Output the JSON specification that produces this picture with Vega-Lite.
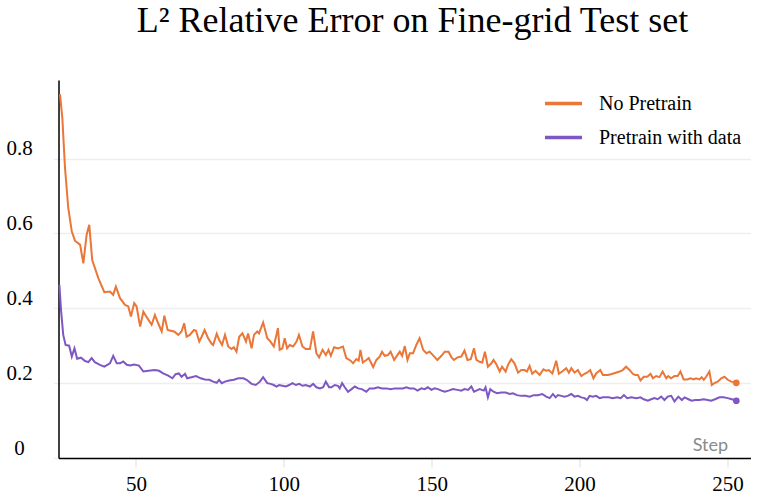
{
"$schema":"https://vega.github.io/schema/vega-lite/v6.json",
"width":692,"height":378,
"autosize":{"type":"none"},
"padding":{"left":58.5,"top":80,"right":10.5,"bottom":36},
"background":"white",
"title":{"text":"L² Relative Error on Fine-grid Test set","font":"Liberation Serif","fontSize":36,"fontWeight":"normal","color":"#000","anchor":"middle","dx":8,"baseline":"alphabetic","offset":12},
"config":{"view":{"stroke":null}},
"data":{"values":[
{"run":"No Pretrain","step":24.3,"err":0.972},{"run":"No Pretrain","step":25.1,"err":0.908},{"run":"No Pretrain","step":26,"err":0.775},{"run":"No Pretrain","step":27.1,"err":0.668},{"run":"No Pretrain","step":28.3,"err":0.605},{"run":"No Pretrain","step":29.4,"err":0.58},{"run":"No Pretrain","step":31.1,"err":0.57},{"run":"No Pretrain","step":32.2,"err":0.52},{"run":"No Pretrain","step":33.3,"err":0.596},{"run":"No Pretrain","step":34.2,"err":0.623},{"run":"No Pretrain","step":35.2,"err":0.529},{"run":"No Pretrain","step":37.3,"err":0.48},{"run":"No Pretrain","step":39.3,"err":0.443},{"run":"No Pretrain","step":41.2,"err":0.445},{"run":"No Pretrain","step":42.3,"err":0.436},{"run":"No Pretrain","step":43.2,"err":0.458},{"run":"No Pretrain","step":44.6,"err":0.427},{"run":"No Pretrain","step":46.3,"err":0.409},{"run":"No Pretrain","step":47.4,"err":0.405},{"run":"No Pretrain","step":48.3,"err":0.378},{"run":"No Pretrain","step":49.4,"err":0.414},{"run":"No Pretrain","step":50.2,"err":0.405},{"run":"No Pretrain","step":51.4,"err":0.351},{"run":"No Pretrain","step":52.5,"err":0.391},{"run":"No Pretrain","step":53.9,"err":0.373},{"run":"No Pretrain","step":55.3,"err":0.356},{"run":"No Pretrain","step":56.4,"err":0.382},{"run":"No Pretrain","step":57.5,"err":0.36},{"run":"No Pretrain","step":58.7,"err":0.338},{"run":"No Pretrain","step":59.6,"err":0.38},{"run":"No Pretrain","step":60.7,"err":0.342},{"run":"No Pretrain","step":61.8,"err":0.34},{"run":"No Pretrain","step":62.9,"err":0.338},{"run":"No Pretrain","step":64.3,"err":0.329},{"run":"No Pretrain","step":65.4,"err":0.338},{"run":"No Pretrain","step":66.3,"err":0.36},{"run":"No Pretrain","step":67.1,"err":0.324},{"run":"No Pretrain","step":68.2,"err":0.329},{"run":"No Pretrain","step":69.6,"err":0.342},{"run":"No Pretrain","step":70.3,"err":0.34},{"run":"No Pretrain","step":71.4,"err":0.311},{"run":"No Pretrain","step":72.2,"err":0.324},{"run":"No Pretrain","step":73.2,"err":0.342},{"run":"No Pretrain","step":74.4,"err":0.32},{"run":"No Pretrain","step":75.6,"err":0.305},{"run":"No Pretrain","step":76.1,"err":0.302},{"run":"No Pretrain","step":77.3,"err":0.332},{"run":"No Pretrain","step":78.1,"err":0.316},{"run":"No Pretrain","step":79.1,"err":0.302},{"run":"No Pretrain","step":80.1,"err":0.329},{"run":"No Pretrain","step":81.2,"err":0.298},{"run":"No Pretrain","step":82.3,"err":0.291},{"run":"No Pretrain","step":83.1,"err":0.296},{"run":"No Pretrain","step":84,"err":0.284},{"run":"No Pretrain","step":84.9,"err":0.324},{"run":"No Pretrain","step":86,"err":0.333},{"run":"No Pretrain","step":87.2,"err":0.311},{"run":"No Pretrain","step":87.9,"err":0.333},{"run":"No Pretrain","step":89.1,"err":0.293},{"run":"No Pretrain","step":89.9,"err":0.329},{"run":"No Pretrain","step":91,"err":0.338},{"run":"No Pretrain","step":91.6,"err":0.333},{"run":"No Pretrain","step":93,"err":0.362},{"run":"No Pretrain","step":94.4,"err":0.32},{"run":"No Pretrain","step":95.5,"err":0.311},{"run":"No Pretrain","step":96.6,"err":0.298},{"run":"No Pretrain","step":98,"err":0.347},{"run":"No Pretrain","step":98.6,"err":0.289},{"run":"No Pretrain","step":99.5,"err":0.293},{"run":"No Pretrain","step":100.3,"err":0.32},{"run":"No Pretrain","step":101.1,"err":0.293},{"run":"No Pretrain","step":102,"err":0.302},{"run":"No Pretrain","step":103.1,"err":0.298},{"run":"No Pretrain","step":104.3,"err":0.311},{"run":"No Pretrain","step":105.1,"err":0.329},{"run":"No Pretrain","step":106.3,"err":0.298},{"run":"No Pretrain","step":107.4,"err":0.291},{"run":"No Pretrain","step":108.8,"err":0.291},{"run":"No Pretrain","step":109.9,"err":0.338},{"run":"No Pretrain","step":111,"err":0.28},{"run":"No Pretrain","step":111.9,"err":0.269},{"run":"No Pretrain","step":113.1,"err":0.289},{"run":"No Pretrain","step":114.2,"err":0.275},{"run":"No Pretrain","step":115.1,"err":0.289},{"run":"No Pretrain","step":115.9,"err":0.273},{"run":"No Pretrain","step":117,"err":0.296},{"run":"No Pretrain","step":118.3,"err":0.293},{"run":"No Pretrain","step":120,"err":0.298},{"run":"No Pretrain","step":121.1,"err":0.267},{"run":"No Pretrain","step":122.6,"err":0.26},{"run":"No Pretrain","step":123.4,"err":0.253},{"run":"No Pretrain","step":124.5,"err":0.264},{"run":"No Pretrain","step":125.3,"err":0.26},{"run":"No Pretrain","step":125.9,"err":0.289},{"run":"No Pretrain","step":126.7,"err":0.255},{"run":"No Pretrain","step":127.9,"err":0.262},{"run":"No Pretrain","step":128.7,"err":0.267},{"run":"No Pretrain","step":130.2,"err":0.243},{"run":"No Pretrain","step":131.3,"err":0.262},{"run":"No Pretrain","step":132.4,"err":0.271},{"run":"No Pretrain","step":133.2,"err":0.284},{"run":"No Pretrain","step":134.1,"err":0.273},{"run":"No Pretrain","step":135.2,"err":0.275},{"run":"No Pretrain","step":136.1,"err":0.284},{"run":"No Pretrain","step":137.3,"err":0.262},{"run":"No Pretrain","step":138.4,"err":0.275},{"run":"No Pretrain","step":139.2,"err":0.284},{"run":"No Pretrain","step":140,"err":0.273},{"run":"No Pretrain","step":140.9,"err":0.299},{"run":"No Pretrain","step":141.8,"err":0.262},{"run":"No Pretrain","step":142.6,"err":0.28},{"run":"No Pretrain","step":143.7,"err":0.28},{"run":"No Pretrain","step":144.8,"err":0.302},{"run":"No Pretrain","step":145.9,"err":0.32},{"run":"No Pretrain","step":147.1,"err":0.289},{"run":"No Pretrain","step":148.2,"err":0.28},{"run":"No Pretrain","step":149.3,"err":0.284},{"run":"No Pretrain","step":150.4,"err":0.275},{"run":"No Pretrain","step":151.9,"err":0.262},{"run":"No Pretrain","step":153.3,"err":0.273},{"run":"No Pretrain","step":154.4,"err":0.284},{"run":"No Pretrain","step":155.7,"err":0.284},{"run":"No Pretrain","step":156.7,"err":0.269},{"run":"No Pretrain","step":157.5,"err":0.262},{"run":"No Pretrain","step":158.7,"err":0.269},{"run":"No Pretrain","step":160,"err":0.271},{"run":"No Pretrain","step":161.1,"err":0.287},{"run":"No Pretrain","step":162.1,"err":0.262},{"run":"No Pretrain","step":163.2,"err":0.264},{"run":"No Pretrain","step":164.3,"err":0.293},{"run":"No Pretrain","step":165.1,"err":0.262},{"run":"No Pretrain","step":166.2,"err":0.257},{"run":"No Pretrain","step":167.1,"err":0.255},{"run":"No Pretrain","step":168,"err":0.284},{"run":"No Pretrain","step":169,"err":0.244},{"run":"No Pretrain","step":170.2,"err":0.253},{"run":"No Pretrain","step":170.9,"err":0.262},{"run":"No Pretrain","step":171.8,"err":0.251},{"run":"No Pretrain","step":173,"err":0.231},{"run":"No Pretrain","step":173.8,"err":0.244},{"run":"No Pretrain","step":175,"err":0.231},{"run":"No Pretrain","step":175.8,"err":0.249},{"run":"No Pretrain","step":176.9,"err":0.264},{"run":"No Pretrain","step":178,"err":0.253},{"run":"No Pretrain","step":179.2,"err":0.228},{"run":"No Pretrain","step":180.3,"err":0.235},{"run":"No Pretrain","step":181.4,"err":0.235},{"run":"No Pretrain","step":182.2,"err":0.231},{"run":"No Pretrain","step":183.1,"err":0.246},{"run":"No Pretrain","step":184,"err":0.225},{"run":"No Pretrain","step":185.1,"err":0.233},{"run":"No Pretrain","step":186.5,"err":0.222},{"run":"No Pretrain","step":187.8,"err":0.237},{"run":"No Pretrain","step":188.7,"err":0.233},{"run":"No Pretrain","step":189.6,"err":0.235},{"run":"No Pretrain","step":190.8,"err":0.226},{"run":"No Pretrain","step":192.1,"err":0.26},{"run":"No Pretrain","step":193,"err":0.225},{"run":"No Pretrain","step":194.1,"err":0.231},{"run":"No Pretrain","step":195.5,"err":0.24},{"run":"No Pretrain","step":196.4,"err":0.228},{"run":"No Pretrain","step":197.2,"err":0.24},{"run":"No Pretrain","step":198.3,"err":0.228},{"run":"No Pretrain","step":199.4,"err":0.235},{"run":"No Pretrain","step":200.6,"err":0.219},{"run":"No Pretrain","step":201.7,"err":0.225},{"run":"No Pretrain","step":202.5,"err":0.228},{"run":"No Pretrain","step":203.6,"err":0.235},{"run":"No Pretrain","step":204.7,"err":0.213},{"run":"No Pretrain","step":205.6,"err":0.226},{"run":"No Pretrain","step":207,"err":0.235},{"run":"No Pretrain","step":207.9,"err":0.222},{"run":"No Pretrain","step":209.6,"err":0.222},{"run":"No Pretrain","step":211.2,"err":0.225},{"run":"No Pretrain","step":213.5,"err":0.231},{"run":"No Pretrain","step":214.6,"err":0.235},{"run":"No Pretrain","step":215.7,"err":0.244},{"run":"No Pretrain","step":216.9,"err":0.235},{"run":"No Pretrain","step":218,"err":0.225},{"run":"No Pretrain","step":218.8,"err":0.222},{"run":"No Pretrain","step":219.7,"err":0.222},{"run":"No Pretrain","step":220.6,"err":0.207},{"run":"No Pretrain","step":221.7,"err":0.217},{"run":"No Pretrain","step":222.9,"err":0.217},{"run":"No Pretrain","step":224,"err":0.225},{"run":"No Pretrain","step":224.8,"err":0.213},{"run":"No Pretrain","step":225.9,"err":0.219},{"run":"No Pretrain","step":227,"err":0.216},{"run":"No Pretrain","step":228.1,"err":0.231},{"run":"No Pretrain","step":229.3,"err":0.213},{"run":"No Pretrain","step":230,"err":0.219},{"run":"No Pretrain","step":230.9,"err":0.213},{"run":"No Pretrain","step":232.1,"err":0.219},{"run":"No Pretrain","step":233.2,"err":0.219},{"run":"No Pretrain","step":234.1,"err":0.231},{"run":"No Pretrain","step":235.2,"err":0.21},{"run":"No Pretrain","step":236.4,"err":0.21},{"run":"No Pretrain","step":237.5,"err":0.213},{"run":"No Pretrain","step":238.6,"err":0.21},{"run":"No Pretrain","step":239.4,"err":0.213},{"run":"No Pretrain","step":240.5,"err":0.21},{"run":"No Pretrain","step":241.3,"err":0.216},{"run":"No Pretrain","step":242,"err":0.209},{"run":"No Pretrain","step":242.8,"err":0.217},{"run":"No Pretrain","step":243.9,"err":0.231},{"run":"No Pretrain","step":244.7,"err":0.195},{"run":"No Pretrain","step":245.6,"err":0.2},{"run":"No Pretrain","step":246.7,"err":0.204},{"run":"No Pretrain","step":247.9,"err":0.213},{"run":"No Pretrain","step":249,"err":0.217},{"run":"No Pretrain","step":250.1,"err":0.209},{"run":"No Pretrain","step":251.3,"err":0.204},{"run":"No Pretrain","step":253,"err":0.201},
{"run":"Pretrain with data","step":24.1,"err":0.463},{"run":"Pretrain with data","step":24.7,"err":0.391},{"run":"Pretrain with data","step":25.4,"err":0.329},{"run":"Pretrain with data","step":26.2,"err":0.302},{"run":"Pretrain with data","step":27.4,"err":0.3},{"run":"Pretrain with data","step":28.3,"err":0.271},{"run":"Pretrain with data","step":29.2,"err":0.293},{"run":"Pretrain with data","step":30.1,"err":0.265},{"run":"Pretrain with data","step":31.4,"err":0.268},{"run":"Pretrain with data","step":32.8,"err":0.259},{"run":"Pretrain with data","step":33.9,"err":0.256},{"run":"Pretrain with data","step":35,"err":0.267},{"run":"Pretrain with data","step":36.1,"err":0.256},{"run":"Pretrain with data","step":37.8,"err":0.249},{"run":"Pretrain with data","step":39.3,"err":0.244},{"run":"Pretrain with data","step":40.6,"err":0.25},{"run":"Pretrain with data","step":41.2,"err":0.253},{"run":"Pretrain with data","step":42.3,"err":0.273},{"run":"Pretrain with data","step":43.5,"err":0.253},{"run":"Pretrain with data","step":44.6,"err":0.253},{"run":"Pretrain with data","step":45.7,"err":0.258},{"run":"Pretrain with data","step":46.9,"err":0.249},{"run":"Pretrain with data","step":48,"err":0.247},{"run":"Pretrain with data","step":49.4,"err":0.25},{"run":"Pretrain with data","step":51,"err":0.247},{"run":"Pretrain with data","step":52.5,"err":0.231},{"run":"Pretrain with data","step":54.2,"err":0.233},{"run":"Pretrain with data","step":56.4,"err":0.235},{"run":"Pretrain with data","step":57.8,"err":0.233},{"run":"Pretrain with data","step":59.2,"err":0.226},{"run":"Pretrain with data","step":60.9,"err":0.22},{"run":"Pretrain with data","step":62.3,"err":0.213},{"run":"Pretrain with data","step":63.4,"err":0.224},{"run":"Pretrain with data","step":64.5,"err":0.226},{"run":"Pretrain with data","step":65.4,"err":0.217},{"run":"Pretrain with data","step":66.6,"err":0.225},{"run":"Pretrain with data","step":67.3,"err":0.213},{"run":"Pretrain with data","step":68.8,"err":0.216},{"run":"Pretrain with data","step":70.3,"err":0.219},{"run":"Pretrain with data","step":71.9,"err":0.213},{"run":"Pretrain with data","step":73.3,"err":0.21},{"run":"Pretrain with data","step":74.8,"err":0.209},{"run":"Pretrain with data","step":76.1,"err":0.204},{"run":"Pretrain with data","step":77.3,"err":0.201},{"run":"Pretrain with data","step":78.1,"err":0.209},{"run":"Pretrain with data","step":79,"err":0.2},{"run":"Pretrain with data","step":80.1,"err":0.204},{"run":"Pretrain with data","step":81.5,"err":0.207},{"run":"Pretrain with data","step":83.1,"err":0.209},{"run":"Pretrain with data","step":84.6,"err":0.213},{"run":"Pretrain with data","step":86.3,"err":0.213},{"run":"Pretrain with data","step":87.4,"err":0.209},{"run":"Pretrain with data","step":89.1,"err":0.198},{"run":"Pretrain with data","step":90.5,"err":0.195},{"run":"Pretrain with data","step":91.9,"err":0.204},{"run":"Pretrain with data","step":93,"err":0.216},{"run":"Pretrain with data","step":94.4,"err":0.2},{"run":"Pretrain with data","step":95.5,"err":0.198},{"run":"Pretrain with data","step":96.6,"err":0.195},{"run":"Pretrain with data","step":97.5,"err":0.191},{"run":"Pretrain with data","step":98.4,"err":0.195},{"run":"Pretrain with data","step":99.5,"err":0.193},{"run":"Pretrain with data","step":100.7,"err":0.191},{"run":"Pretrain with data","step":101.8,"err":0.195},{"run":"Pretrain with data","step":102.9,"err":0.2},{"run":"Pretrain with data","step":104.1,"err":0.195},{"run":"Pretrain with data","step":105.2,"err":0.198},{"run":"Pretrain with data","step":106.3,"err":0.193},{"run":"Pretrain with data","step":107.4,"err":0.195},{"run":"Pretrain with data","step":108.8,"err":0.191},{"run":"Pretrain with data","step":109.9,"err":0.198},{"run":"Pretrain with data","step":111,"err":0.189},{"run":"Pretrain with data","step":112.2,"err":0.186},{"run":"Pretrain with data","step":113.3,"err":0.189},{"run":"Pretrain with data","step":114.2,"err":0.204},{"run":"Pretrain with data","step":115.3,"err":0.189},{"run":"Pretrain with data","step":116.1,"err":0.189},{"run":"Pretrain with data","step":117.2,"err":0.195},{"run":"Pretrain with data","step":118.3,"err":0.193},{"run":"Pretrain with data","step":118.9,"err":0.186},{"run":"Pretrain with data","step":119.7,"err":0.2},{"run":"Pretrain with data","step":120.6,"err":0.189},{"run":"Pretrain with data","step":121.7,"err":0.177},{"run":"Pretrain with data","step":122.9,"err":0.184},{"run":"Pretrain with data","step":124,"err":0.191},{"run":"Pretrain with data","step":125.1,"err":0.186},{"run":"Pretrain with data","step":126.4,"err":0.184},{"run":"Pretrain with data","step":127.9,"err":0.177},{"run":"Pretrain with data","step":129,"err":0.186},{"run":"Pretrain with data","step":130.5,"err":0.186},{"run":"Pretrain with data","step":131.8,"err":0.189},{"run":"Pretrain with data","step":133.2,"err":0.186},{"run":"Pretrain with data","step":134.7,"err":0.186},{"run":"Pretrain with data","step":136.1,"err":0.184},{"run":"Pretrain with data","step":137.5,"err":0.186},{"run":"Pretrain with data","step":138.8,"err":0.186},{"run":"Pretrain with data","step":140.3,"err":0.186},{"run":"Pretrain with data","step":141.4,"err":0.189},{"run":"Pretrain with data","step":142.6,"err":0.186},{"run":"Pretrain with data","step":144,"err":0.186},{"run":"Pretrain with data","step":145.2,"err":0.18},{"run":"Pretrain with data","step":146.5,"err":0.186},{"run":"Pretrain with data","step":147.6,"err":0.184},{"run":"Pretrain with data","step":148.7,"err":0.189},{"run":"Pretrain with data","step":149.9,"err":0.182},{"run":"Pretrain with data","step":151,"err":0.186},{"run":"Pretrain with data","step":152.1,"err":0.184},{"run":"Pretrain with data","step":153.3,"err":0.18},{"run":"Pretrain with data","step":154.4,"err":0.177},{"run":"Pretrain with data","step":155.7,"err":0.18},{"run":"Pretrain with data","step":157.2,"err":0.184},{"run":"Pretrain with data","step":158.7,"err":0.182},{"run":"Pretrain with data","step":160,"err":0.18},{"run":"Pretrain with data","step":161.1,"err":0.184},{"run":"Pretrain with data","step":162.3,"err":0.182},{"run":"Pretrain with data","step":163.4,"err":0.191},{"run":"Pretrain with data","step":164.3,"err":0.177},{"run":"Pretrain with data","step":165.1,"err":0.18},{"run":"Pretrain with data","step":166.2,"err":0.184},{"run":"Pretrain with data","step":167.6,"err":0.18},{"run":"Pretrain with data","step":168.2,"err":0.189},{"run":"Pretrain with data","step":169,"err":0.162},{"run":"Pretrain with data","step":169.8,"err":0.184},{"run":"Pretrain with data","step":170.9,"err":0.177},{"run":"Pretrain with data","step":172.1,"err":0.173},{"run":"Pretrain with data","step":173.5,"err":0.175},{"run":"Pretrain with data","step":175,"err":0.175},{"run":"Pretrain with data","step":176.4,"err":0.171},{"run":"Pretrain with data","step":177.5,"err":0.173},{"run":"Pretrain with data","step":178.8,"err":0.168},{"run":"Pretrain with data","step":180.3,"err":0.166},{"run":"Pretrain with data","step":181.8,"err":0.166},{"run":"Pretrain with data","step":183.1,"err":0.164},{"run":"Pretrain with data","step":184.5,"err":0.168},{"run":"Pretrain with data","step":185.9,"err":0.168},{"run":"Pretrain with data","step":187.4,"err":0.171},{"run":"Pretrain with data","step":188.7,"err":0.164},{"run":"Pretrain with data","step":189.9,"err":0.16},{"run":"Pretrain with data","step":191,"err":0.171},{"run":"Pretrain with data","step":191.9,"err":0.162},{"run":"Pretrain with data","step":192.7,"err":0.168},{"run":"Pretrain with data","step":193.8,"err":0.166},{"run":"Pretrain with data","step":194.9,"err":0.164},{"run":"Pretrain with data","step":196,"err":0.166},{"run":"Pretrain with data","step":197.2,"err":0.171},{"run":"Pretrain with data","step":198.3,"err":0.164},{"run":"Pretrain with data","step":199.4,"err":0.166},{"run":"Pretrain with data","step":200.6,"err":0.162},{"run":"Pretrain with data","step":201.7,"err":0.16},{"run":"Pretrain with data","step":202.5,"err":0.155},{"run":"Pretrain with data","step":203.4,"err":0.166},{"run":"Pretrain with data","step":204.5,"err":0.164},{"run":"Pretrain with data","step":205.6,"err":0.166},{"run":"Pretrain with data","step":206.8,"err":0.16},{"run":"Pretrain with data","step":207.9,"err":0.162},{"run":"Pretrain with data","step":209.8,"err":0.162},{"run":"Pretrain with data","step":211.2,"err":0.16},{"run":"Pretrain with data","step":212.7,"err":0.162},{"run":"Pretrain with data","step":213.9,"err":0.16},{"run":"Pretrain with data","step":215,"err":0.168},{"run":"Pretrain with data","step":216.1,"err":0.16},{"run":"Pretrain with data","step":217.5,"err":0.162},{"run":"Pretrain with data","step":219.2,"err":0.16},{"run":"Pretrain with data","step":220.6,"err":0.162},{"run":"Pretrain with data","step":221.7,"err":0.157},{"run":"Pretrain with data","step":223.1,"err":0.153},{"run":"Pretrain with data","step":224.2,"err":0.157},{"run":"Pretrain with data","step":225.3,"err":0.16},{"run":"Pretrain with data","step":226.4,"err":0.157},{"run":"Pretrain with data","step":227.6,"err":0.164},{"run":"Pretrain with data","step":228.7,"err":0.155},{"run":"Pretrain with data","step":229.8,"err":0.164},{"run":"Pretrain with data","step":231,"err":0.166},{"run":"Pretrain with data","step":232.1,"err":0.151},{"run":"Pretrain with data","step":233.4,"err":0.164},{"run":"Pretrain with data","step":234.6,"err":0.155},{"run":"Pretrain with data","step":235.5,"err":0.162},{"run":"Pretrain with data","step":236.8,"err":0.157},{"run":"Pretrain with data","step":237.9,"err":0.153},{"run":"Pretrain with data","step":239.1,"err":0.155},{"run":"Pretrain with data","step":240.5,"err":0.155},{"run":"Pretrain with data","step":242,"err":0.157},{"run":"Pretrain with data","step":243.3,"err":0.155},{"run":"Pretrain with data","step":244.5,"err":0.153},{"run":"Pretrain with data","step":245.8,"err":0.157},{"run":"Pretrain with data","step":247.3,"err":0.162},{"run":"Pretrain with data","step":248.7,"err":0.162},{"run":"Pretrain with data","step":250.1,"err":0.16},{"run":"Pretrain with data","step":251.5,"err":0.157},{"run":"Pretrain with data","step":253,"err":0.153}
]},
"encoding":{
 "x":{"field":"step","type":"quantitative","scale":{"domain":[23.8,257.8],"nice":false,"zero":false},
  "axis":{"values":[50,100,150,200,250],"grid":false,"domainColor":"#000","domainWidth":1.5,"tickColor":"#dddddd","tickSize":9,"labelFont":"Liberation Serif","labelFontSize":21,"labelColor":"#000","labelPadding":6,
   "title":"Step","titleFont":"Lato","titleFontSize":18,"titleFontWeight":"normal","titleColor":"#8a8a8a","titleAnchor":"start","titleAlign":"right","titleBaseline":"middle","titleX":669,"titleY":-13}},
 "y":{"field":"err","type":"quantitative","scale":{"domain":[0,1.01],"nice":false},
  "axis":{"values":[0,0.2,0.4,0.6,0.8],"labelExpr":"datum.value == 0 ? '0' : format(datum.value, '.1f')","title":null,"grid":true,"gridColor":"#eeeeee","gridWidth":1.5,"domainColor":"#000","domainWidth":1.5,"tickColor":"#eeeeee","tickSize":5,"tickWidth":1.5,"labelFont":"Liberation Serif","labelFontSize":21,"labelColor":"#000","labelAlign":"center","labelPadding":34.5,"labelBaseline":"middle","labelOffset":-10}},
 "color":{"field":"run","type":"nominal","scale":{"domain":["No Pretrain","Pretrain with data"],"range":["#EA7637","#7E57C2"]}}
},
"layer":[
 {"mark":{"type":"line","strokeWidth":2},
  "encoding":{"color":{"field":"run","type":"nominal","scale":{"domain":["No Pretrain","Pretrain with data"],"range":["#EA7637","#7E57C2"]},
   "legend":{"title":null,"orient":"none","legendX":484.5,"legendY":3,"padding":0,"symbolType":"stroke","symbolSize":1369,"symbolStrokeWidth":3.5,"labelFont":"Liberation Serif","labelFontSize":20,"labelColor":"#000","labelOffset":15,"rowPadding":3,"labelExpr":"datum.label == 'No Pretrain' ? '\u00a0No Pretrain' : datum.label"}}}},
 {"transform":[{"filter":"datum.step >= 253"}],"mark":{"type":"point","filled":true,"size":45,"opacity":1},"encoding":{"color":{"field":"run","type":"nominal","legend":null}}}
]
}
